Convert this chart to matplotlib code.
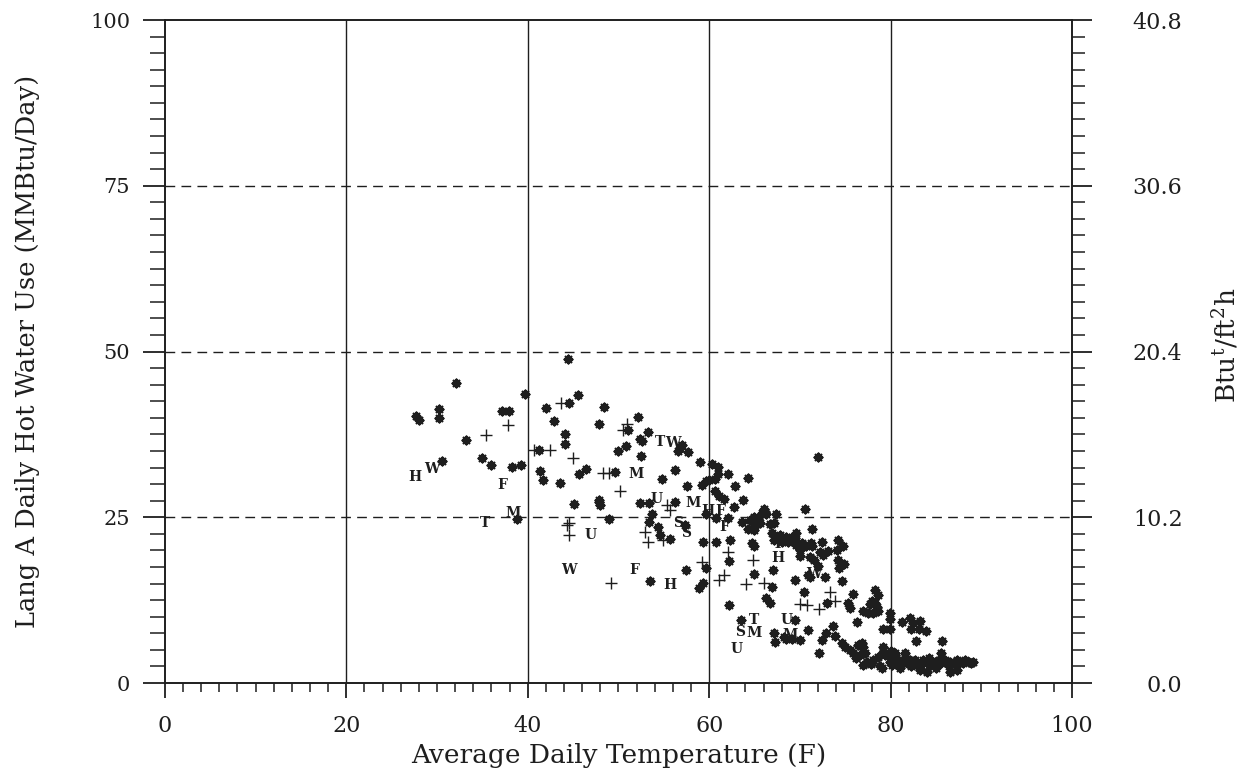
import numpy as np
import matplotlib
matplotlib.use("Agg")
import matplotlib.pyplot as plt
from matplotlib.ticker import MultipleLocator, FixedLocator

plt.rcParams["font.family"] = ["DejaVu Serif"]
plt.rcParams["mathtext.fontset"] = "dejavuserif"

INK = "#1e1e1e"

# daily points (average temperature F, hot water use MMBtu/day)
star_temp = [
    44.4, 32.1, 39.7, 45.5, 44.5, 42.0, 30.2, 27.7, 28.0, 37.2, 37.9, 30.2, 42.9,
    47.9, 44.1, 33.2, 44.1, 41.2, 34.9, 30.5, 36.0, 38.3, 39.3, 41.3, 41.7, 43.5,
    45.7, 46.4, 45.1, 47.8, 38.8,
    48.4, 52.1, 51.1, 53.2, 52.4, 52.6, 50.8, 50.0, 52.5, 57.0, 56.8, 56.6, 57.7,
    59.0, 60.3, 61.0, 56.2, 49.6, 54.8, 57.5, 59.2, 59.6, 60.0, 60.6, 61.0, 62.1,
    64.3, 62.8, 60.6, 61.1, 61.6, 63.7, 62.7, 47.9, 48.0, 52.4, 53.4, 56.2, 59.6,
    53.7, 48.9, 60.8, 62.1, 63.6, 64.5, 53.4, 57.3, 54.4, 54.6, 55.7, 59.3, 60.8,
    62.3, 62.2, 64.9, 59.7, 57.4, 59.3, 58.9, 53.5, 62.2, 63.5,
    72.0, 70.6, 66.0, 65.8, 66.3, 67.4, 66.2, 65.4, 64.9, 65.0, 64.3, 65.6, 66.7,
    67.1, 64.9, 71.3, 66.9, 67.3, 67.8, 68.5, 69.1, 69.6, 69.5, 67.1, 68.0, 68.7,
    69.6, 70.0, 70.7, 71.3, 70.2, 71.2, 72.4, 74.2, 74.8, 72.2, 72.6, 73.1, 74.1,
    70.0, 71.1, 71.5, 74.2, 74.9, 74.3, 72.0, 70.9, 72.8, 71.1, 67.0, 64.7, 64.9,
    66.9, 69.5, 74.6, 70.4, 75.8, 78.3, 78.6, 77.9, 78.3, 77.7, 78.5, 73.0, 75.3,
    75.5, 66.3, 66.7, 77.0, 77.5, 78.1, 78.6, 79.9, 76.3, 81.2, 82.1, 82.5, 83.2,
    79.2, 79.9, 79.9, 82.3, 83.1, 83.9, 82.8, 85.7, 85.6, 73.7, 70.9, 69.5, 67.1,
    67.3, 68.2, 68.5, 69.1, 70.0, 72.9, 73.9, 72.4, 72.1, 74.6, 75.0, 75.5, 75.9,
    76.4, 77.0,
    76.8, 77.2, 77.4, 77.0, 78.1, 78.6, 79.2, 79.4, 78.8, 79.0, 79.9, 80.1, 80.3,
    80.5, 80.7, 81.2, 81.6, 81.8, 82.1, 82.7, 82.9, 83.2, 83.6, 84.0, 84.2, 84.5,
    84.9, 85.3, 85.6, 86.0, 86.4, 86.5, 86.9, 87.3, 87.7, 88.0, 88.2, 88.6, 88.9,
    89.1, 80.5, 81.6, 79.2, 83.2, 84.0, 86.5, 87.3, 81.0, 82.3, 85.0, 80.0, 76.2,
    77.8, 76.6,
]
star_use = [
    48.8, 45.2, 43.6, 43.5, 42.2, 41.5, 41.3, 40.3, 39.6, 41.0, 41.1, 39.9, 39.5,
    39.1, 37.5, 36.7, 36.1, 35.1, 34.0, 33.5, 32.9, 32.6, 32.9, 32.0, 30.6, 30.1,
    31.6, 32.3, 27.0, 27.3, 24.8,
    41.7, 40.1, 38.1, 37.9, 36.8, 36.5, 35.8, 35.0, 34.3, 35.9, 35.4, 35.0, 34.9,
    33.4, 33.0, 32.6, 32.2, 31.8, 30.7, 29.7, 29.9, 30.4, 30.6, 30.8, 31.6, 31.5,
    30.9, 29.7, 28.9, 28.2, 27.8, 27.6, 26.6, 27.6, 26.8, 27.1, 27.1, 27.3, 25.5,
    25.5, 24.7, 24.9, 24.9, 24.3, 24.6, 24.3, 23.8, 23.6, 22.3, 21.7, 21.3, 21.3,
    21.6, 18.4, 16.5, 17.4, 17.0, 15.1, 14.3, 15.4, 11.8, 9.5,
    34.1, 26.2, 26.3, 25.6, 25.5, 25.5, 25.8, 24.8, 25.1, 23.8, 23.3, 24.1, 24.0,
    24.1, 23.1, 23.2, 22.6, 22.1, 22.3, 22.1, 22.1, 22.6, 21.8, 21.6, 21.3, 21.2,
    20.8, 20.1, 20.6, 20.7, 21.1, 21.1, 21.3, 21.6, 20.7, 19.8, 19.3, 19.9, 20.0,
    19.1, 19.0, 18.6, 18.6, 17.9, 17.3, 17.7, 16.3, 16.0, 16.0, 17.0, 21.1, 20.6,
    14.5, 15.5, 15.4, 13.8, 13.4, 14.0, 13.3, 12.3, 12.0, 11.9, 11.5, 12.0, 12.0,
    11.3, 12.8, 12.0, 10.8, 10.6, 10.6, 10.8, 10.5, 9.2, 9.2, 9.8, 9.0, 9.4,
    8.2, 8.1, 9.6, 8.1, 8.1, 7.9, 6.4, 6.3, 4.5, 8.6, 8.0, 9.5, 7.5,
    6.2, 7.0, 6.7, 6.7, 6.5, 7.5, 7.1, 6.5, 4.5, 6.0, 5.5, 5.0, 4.5,
    5.7, 5.5,
    6.0, 4.5, 3.2, 2.7, 3.5, 4.0, 4.7, 4.2, 2.5, 2.2, 3.2, 2.7, 3.7,
    4.2, 3.5, 3.0, 3.7, 3.0, 3.5, 3.5, 2.7, 2.2, 3.5, 3.0, 3.7, 2.7,
    3.2, 3.5, 3.0, 3.5, 2.5, 3.2, 3.0, 3.5, 3.2, 3.0, 3.5, 3.2, 3.0,
    3.2, 4.5, 4.6, 5.5, 2.0, 1.7, 1.7, 2.0, 2.3, 2.5, 2.2, 4.8, 3.8,
    2.9, 4.2,
]

plus_temp = [
    43.7, 37.8, 35.4, 40.7, 42.4, 45.0, 44.5, 44.3, 44.5, 48.3, 49.0, 50.2, 50.9,
    50.5, 55.3, 55.7, 52.9, 53.2, 54.9, 62.1, 64.8, 59.2, 61.6, 61.1, 64.1, 49.2,
    66.0, 73.3, 73.9, 70.0, 70.8, 72.1,
]
plus_use = [
    42.3, 38.9, 37.4, 35.1, 35.1, 34.0, 24.2, 23.8, 22.3, 31.7, 31.7, 29.0, 39.1,
    38.1, 26.8, 26.1, 22.8, 21.3, 21.6, 19.8, 18.6, 18.3, 16.3, 15.5, 14.9, 15.1,
    15.1, 13.8, 12.3, 11.9, 11.7, 11.1,
]

letter_codes = [
    "H", "W", "F", "T", "M", "U", "W", "T", "W", "M", "U", "M", "H", "F",
    "F", "S", "S", "F", "H", "T", "S", "M", "U", "T", "H", "W", "U", "M",
]
letter_temp = [
    27.6, 29.4, 37.2, 35.3, 38.4, 46.9, 44.5, 54.6, 56.0, 51.9, 54.2, 58.2, 59.8, 61.2,
    61.7, 56.6, 57.5, 51.7, 55.7, 64.9, 63.4, 65.0, 63.0, 67.6, 67.6, 71.5, 68.5, 68.9,
]
letter_use = [
    31.1, 32.3, 29.8, 24.2, 25.6, 22.3, 17.1, 36.4, 36.2, 31.5, 27.7, 27.2, 26.0, 26.0,
    23.5, 24.1, 22.7, 17.0, 14.8, 9.5, 7.7, 7.5, 5.2, 21.0, 18.9, 16.5, 9.5, 7.3,
]

x_ticks = [0, 20, 40, 60, 80, 100]
y_ticks = [0, 25, 50, 75, 100]
right_ticks = [0.0, 10.2, 20.4, 30.6, 40.8]

fig = plt.figure(figsize=(12.59, 7.79), dpi=100)
ax = fig.add_axes([0.131, 0.1232, 0.7205, 0.8511])

ax.set_xlim(0, 100)
ax.set_ylim(0, 100)

for x in x_ticks[1:-1]:
    ax.axvline(x, color=INK, lw=1.0, zorder=1)
for y in y_ticks[1:-1]:
    ax.axhline(y, color=INK, lw=1.0, ls=(0, (7, 4.5)), zorder=1)

ax.scatter(star_temp, star_use, marker=(8, 2, 0), s=30, linewidths=1.7,
           color=INK, zorder=3)
ax.scatter(plus_temp, plus_use, marker="+", s=80, linewidths=1.0,
           color=INK, zorder=3)
for code, t, u in zip(letter_codes, letter_temp, letter_use):
    ax.text(t, u, code, ha="center", va="center", fontsize=10,
            fontweight="bold", color=INK, zorder=4)

for side in ("left", "right", "top", "bottom"):
    ax.spines[side].set_linewidth(1.4)
    ax.spines[side].set_color(INK)

ax.set_xticks(x_ticks)
ax.set_yticks(y_ticks)
ax.xaxis.set_minor_locator(MultipleLocator(2))
ax.yaxis.set_minor_locator(MultipleLocator(2.5))
ax.tick_params(axis="x", which="major", length=11, width=1.3, direction="out",
               pad=12, labelsize=16, colors=INK)
ax.tick_params(axis="x", which="minor", length=6.5, width=1.1, direction="out",
               colors=INK)
ax.tick_params(axis="y", which="major", length=16, width=1.3, direction="out",
               pad=9, labelsize=15, colors=INK)
ax.tick_params(axis="y", which="minor", length=10.5, width=1.1, direction="out",
               colors=INK)

ax2 = ax.twinx()
ax2.set_ylim(0, 40.8)
ax2.yaxis.set_major_locator(FixedLocator(right_ticks))
ax2.yaxis.set_minor_locator(MultipleLocator(1.02))
ax2.set_yticklabels([f"{v:.1f}" for v in right_ticks])
ax2.tick_params(axis="y", which="major", length=14.5, width=1.3, direction="out",
                pad=65, labelsize=16, colors=INK)
ax2.tick_params(axis="y", which="minor", length=9.5, width=1.1, direction="out",
                colors=INK)
for lab in ax2.get_yticklabels():
    lab.set_horizontalalignment("right")
for side in ax2.spines:
    ax2.spines[side].set_visible(False)

ax.set_xlabel("Average Daily Temperature (F)", fontsize=19, color=INK)
ax.xaxis.set_label_coords(0.5, -0.09)
ax.set_ylabel("Lang A Daily Hot Water Use (MMBtu/Day)", fontsize=18.5, color=INK)
ax.yaxis.set_label_coords(-0.138, 0.5)
ax2.set_ylabel(r"Btu$^{\mathrm{t}}$/ft$^{2}$h", fontsize=19, color=INK)
ax2.yaxis.set_label_coords(1.153, 0.51)

fig.savefig("out.png", dpi=100, facecolor="white")
